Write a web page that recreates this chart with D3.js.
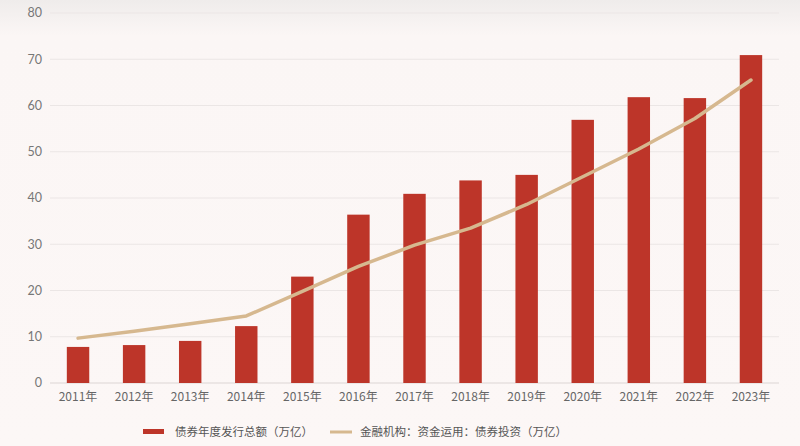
<!DOCTYPE html>
<html>
<head>
<meta charset="utf-8">
<script src="https://cdn.jsdelivr.net/npm/d3@7/dist/d3.min.js"></script>
<style>
body { margin: 0; background: #fcf7f6; }
svg { display: block; font-family: "Noto Sans CJK SC", "Noto Sans", sans-serif; }
</style>
</head>
<body>
<svg id="chart" width="800" height="446"></svg>
<script>
// data
const years = ["2011年","2012年","2013年","2014年","2015年","2016年","2017年","2018年","2019年","2020年","2021年","2022年","2023年"];
const issuance = [7.8, 8.2, 9.1, 12.3, 23.0, 36.4, 40.9, 43.8, 45.0, 56.9, 61.8, 61.6, 70.9];
const bondInvest = [9.7, 11.2, 12.8, 14.5, 19.8, 25.2, 29.8, 33.5, 38.6, 44.6, 50.6, 57.2, 65.5];
const yTicks = [0, 10, 20, 30, 40, 50, 60, 70, 80];
const legendNames = ["债券年度发行总额（万亿）", "金融机构：资金运用：债券投资（万亿）"];

const svg = d3.select("#chart");
const margin = {left: 50, right: 21, top: 13, bottom: 63};
const W = 800, H = 446;

// soft grey band across the top
const defs = svg.append("defs");
const grad = defs.append("linearGradient").attr("id", "bg").attr("x1", 0).attr("y1", 0).attr("x2", 0).attr("y2", 1);
grad.append("stop").attr("offset", "0%").attr("stop-color", "#efeceb");
grad.append("stop").attr("offset", "8%").attr("stop-color", "#fbf6f5");
grad.append("stop").attr("offset", "100%").attr("stop-color", "#fcf7f6");
svg.append("rect").attr("width", W).attr("height", H).attr("fill", "url(#bg)");

const x = d3.scaleBand().domain(years).range([margin.left, W - margin.right]).paddingInner(0.6).paddingOuter(0.3);
const y = d3.scaleLinear().domain([0, 80]).range([H - margin.bottom, margin.top]);

// grid
svg.append("g").selectAll("line").data(yTicks).join("line")
  .attr("x1", margin.left).attr("x2", W - margin.right)
  .attr("y1", d => y(d)).attr("y2", d => y(d))
  .attr("stroke", d => d === 0 ? "#dcd6d4" : "#ebe6e5").attr("stroke-width", 1.2);

// y labels
svg.append("g").selectAll("text").data(yTicks).join("text")
  .attr("x", 42).attr("y", d => y(d)).attr("dy", "0.35em")
  .attr("text-anchor", "end").attr("fill", "#777").attr("font-size", 12.5)
  .attr("font-family", "Lato, 'Noto Sans', sans-serif")
  .text(d => d);

// x labels
svg.append("g").selectAll("text").data(years).join("text")
  .attr("x", d => x(d) + x.bandwidth() / 2).attr("y", 401)
  .attr("text-anchor", "middle").attr("fill", "#666").attr("font-size", 12)
  .text(d => d);

// bars
svg.append("g").selectAll("rect").data(issuance).join("rect")
  .attr("x", (d, i) => x(years[i])).attr("width", x.bandwidth())
  .attr("y", d => y(d)).attr("height", d => y(0) - y(d))
  .attr("fill", "#bd3529");

// line
const line = d3.line()
  .x((d, i) => x(years[i]) + x.bandwidth() / 2)
  .y(d => y(d));
svg.append("path").datum(bondInvest)
  .attr("d", line).attr("fill", "none")
  .attr("stroke", "#d6b88f").attr("stroke-width", 3.5)
  .attr("stroke-linecap", "round").attr("stroke-linejoin", "round");

// legend
const lg = svg.append("g");
lg.append("rect").attr("x", 143).attr("y", 429).attr("width", 21).attr("height", 5).attr("fill", "#bd3529");
lg.append("text").attr("x", 175).attr("y", 432).attr("dy", "0.35em").attr("font-size", 11.5).attr("fill", "#555").text(legendNames[0]);
lg.append("line").attr("x1", 330).attr("x2", 352).attr("y1", 432).attr("y2", 432).attr("stroke", "#d6b88f").attr("stroke-width", 3);
lg.append("text").attr("x", 360).attr("y", 432).attr("dy", "0.35em").attr("font-size", 11.5).attr("fill", "#555").text(legendNames[1]);
</script>
</body>
</html>
